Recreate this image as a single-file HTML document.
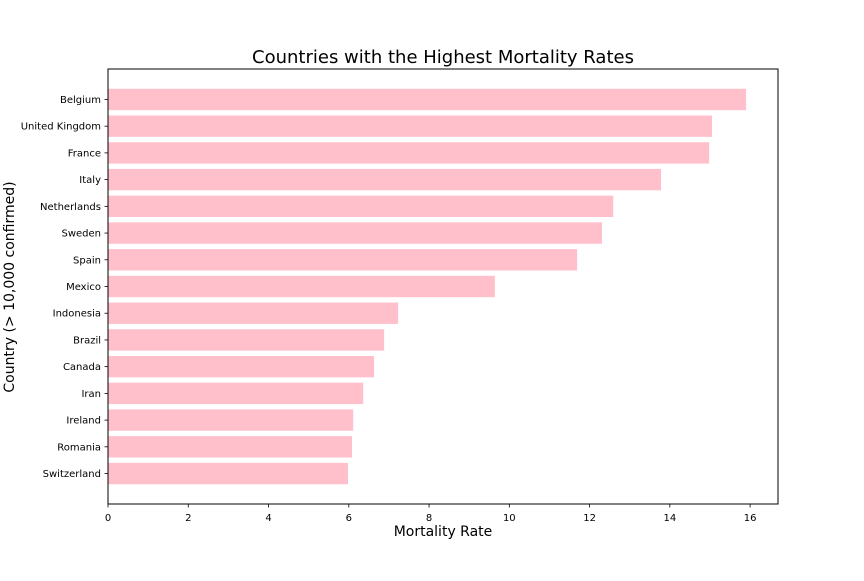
<!DOCTYPE html>
<html><head><meta charset="utf-8"><style>
body{margin:0;background:#fff;font-family:"Liberation Sans","DejaVu Sans",sans-serif;}
</style></head><body>
<svg id="chart" width="864" height="576" xmlns="http://www.w3.org/2000/svg" font-family="DejaVu Sans, Liberation Sans, sans-serif">
<rect width="864" height="576" fill="#fff"/>
<text x="443" y="63" font-size="18" text-anchor="middle">Countries with the Highest Mortality Rates</text>
<text x="443" y="536" font-size="14" text-anchor="middle">Mortality Rate</text>
<text transform="translate(14,287) rotate(-90)" font-size="14" text-anchor="middle">Country (&gt; 10,000 confirmed)</text>
<g id="bars"></g>
<g id="axes"></g>
</svg>
<script>
const countries=["Belgium","United Kingdom","France","Italy","Netherlands","Sweden","Spain","Mexico","Indonesia","Brazil","Canada","Iran","Ireland","Romania","Switzerland"];
const rates=[15.9,15.05,14.98,13.78,12.59,12.31,11.69,9.64,7.23,6.88,6.63,6.36,6.11,6.08,5.98];
const xTicks=[0,2,4,6,8,10,12,14,16];
const L=108,R=778,T=69,B=504;
const xmax=Math.max(...rates)*1.05;
const n=countries.length;
const ymin=-0.4-0.74, ymax=(n-1)+0.4+0.74;
const ns="http://www.w3.org/2000/svg";
function X(v){return L+(v/xmax)*(R-L);}
function Y(i){return T+(i-ymin)/(ymax-ymin)*(B-T);}
const unit=(B-T)/(ymax-ymin);
const bars=document.getElementById('bars'),axes=document.getElementById('axes');
function mk(tag,attrs,parent){const e=document.createElementNS(ns,tag);for(const k in attrs)e.setAttribute(k,attrs[k]);parent.appendChild(e);return e;}
countries.forEach((c,i)=>{
  const r=mk('rect',{x:X(0),y:Y(i)-0.4*unit,width:X(rates[i])-X(0),height:0.8*unit,fill:'#ffc0cb'},bars);
  
  
  mk('line',{x1:L-3.5,x2:L,y1:Y(i),y2:Y(i),stroke:'#000','stroke-width':0.8},axes);
  const lb=mk('text',{x:L-7,y:Y(i)+3.5,'font-size':10,'text-anchor':'end'},axes);
  lb.textContent=c;
  
  
});
xTicks.forEach(v=>{
  mk('line',{x1:X(v),x2:X(v),y1:B,y2:B+3.5,stroke:'#000','stroke-width':0.8},axes);
  const lb=mk('text',{x:X(v),y:B+17,'font-size':10,'text-anchor':'middle'},axes);
  lb.textContent=v;
  
  
});
const frame=mk('rect',{x:L,y:T,width:R-L,height:B-T,fill:'none',stroke:'#000','stroke-width':1},axes);


</script>
</body></html>
